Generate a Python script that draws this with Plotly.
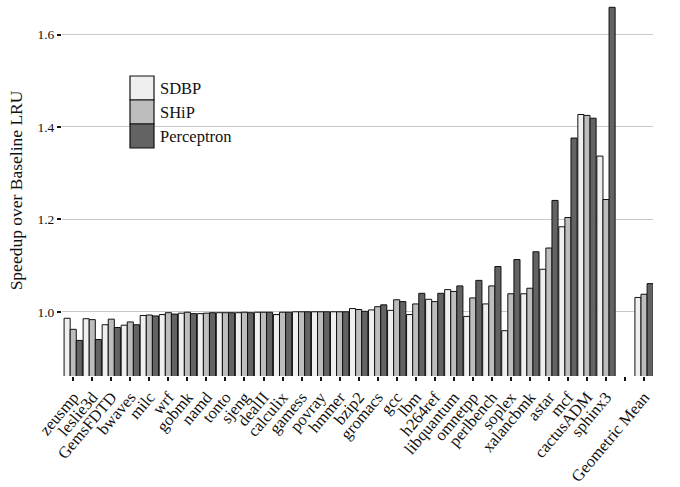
import plotly.graph_objects as go

# Benchmarks (blank slot separates the suite from the geometric mean)
benchmarks = [
    "zeusmp", "leslie3d", "GemsFDTD", "bwaves", "milc", "wrf", "gobmk", "namd",
    "tonto", "sjeng", "dealII", "calculix", "gamess", "povray", "hmmer", "bzip2",
    "gromacs", "gcc", "lbm", "h264ref", "libquantum", "omnetpp", "perlbench",
    "soplex", "xalancbmk", "astar", "mcf", "cactusADM", "sphinx3", " ",
    "Geometric Mean",
]

sdbp = [0.986, 0.985, 0.972, 0.971, 0.992, 0.994, 0.997, 0.996, 0.998, 0.998,
        0.999, 0.994, 1.000, 1.000, 1.000, 1.007, 1.004, 1.003, 0.994, 1.027,
        1.048, 0.990, 1.017, 0.959, 1.039, 1.092, 1.184, 1.427, 1.337, None,
        1.031]
ship = [0.962, 0.983, 0.984, 0.978, 0.993, 0.998, 0.999, 0.997, 0.998, 0.999,
        0.999, 0.999, 1.000, 1.000, 1.000, 1.005, 1.011, 1.026, 1.017, 1.022,
        1.044, 1.030, 1.056, 1.039, 1.051, 1.138, 1.204, 1.425, 1.243, None,
        1.038]
perceptron = [0.938, 0.940, 0.966, 0.972, 0.991, 0.995, 0.996, 0.998, 0.998,
              0.998, 0.999, 0.999, 1.000, 1.000, 1.000, 1.001, 1.015, 1.022,
              1.040, 1.040, 1.056, 1.068, 1.098, 1.113, 1.130, 1.241, 1.376,
              1.419, 1.659, None, 1.061]

series_names = ["SDBP", "SHiP", "Perceptron"]
series_colors = ["#efefef", "#bdbdbd", "#636363"]
series_values = [sdbp, ship, perceptron]

y_ticks = [1.0, 1.2, 1.4, 1.6]
y_range = [0.861, 1.664]

SERIF = "Liberation Serif, Times New Roman, serif"
INK = "#111111"

fig = go.Figure()
for name, color, vals in zip(series_names, series_colors, series_values):
    fig.add_trace(go.Bar(
        x=benchmarks, y=vals, name=name,
        marker=dict(color=color, line=dict(color=INK, width=1)),
        showlegend=False,
    ))

# Square legend swatches stacked in the upper-left of the plot area
W, H = 680, 487
ML, MR, MT, MB = 62, 27, 5, 111
pw, ph = W - ML - MR, H - MT - MB


def px_to_paper(xp, yp):
    return (xp - ML) / pw, (H - MB - yp) / ph


box_x0, box_x1, box_top, box_h = 130, 154, 76, 24
for i, (name, color) in enumerate(zip(series_names, series_colors)):
    x0, y1 = px_to_paper(box_x0, box_top + i * box_h)
    x1, y0 = px_to_paper(box_x1, box_top + (i + 1) * box_h)
    fig.add_shape(type="rect", xref="paper", yref="paper",
                  x0=x0, x1=x1, y0=y0, y1=y1,
                  fillcolor=color, line=dict(color=INK, width=1.2))
    tx, ty = px_to_paper(box_x1 + 4, box_top + (i + 0.5) * box_h)
    fig.add_annotation(xref="paper", yref="paper", x=tx, y=ty, text=name,
                       showarrow=False, xanchor="left", yanchor="middle",
                       font=dict(family=SERIF, size=16.5, color=INK))

fig.update_layout(
    width=W, height=H,
    margin=dict(l=ML, r=MR, t=MT, b=MB),
    paper_bgcolor="white", plot_bgcolor="white",
    barmode="group", bargap=0.04, bargroupgap=0.0,
    font=dict(family=SERIF, size=16, color=INK),
    xaxis=dict(
        type="category", categoryorder="array", categoryarray=benchmarks,
        range=[-0.59, 30.47], automargin=False,
        tickmode="array", tickvals=benchmarks, ticktext=benchmarks,
        tickangle=-50, ticks="outside", ticklen=4, tickwidth=1.5,
        tickcolor=INK, showgrid=False, showline=False, zeroline=False,
        tickfont=dict(family=SERIF, size=16.5, color=INK),
    ),
    yaxis=dict(
        range=y_range, tickvals=y_ticks, tickformat=".1f", automargin=False,
        ticks="outside", ticklen=4, tickwidth=1.5, tickcolor=INK,
        showgrid=True, gridcolor="#c8c8c8", gridwidth=1,
        zeroline=False, showline=False,
        tickfont=dict(family=SERIF, size=13.5, color=INK),
        title=dict(text="Speedup over Baseline LRU", standoff=10,
                   font=dict(family=SERIF, size=17.5, color=INK)),
    ),
    yaxis2=dict(
        range=y_range, tickvals=y_ticks, tickformat=".1f", automargin=False,
        overlaying="y", side="right", matches="y",
        ticks="outside", ticklen=4, tickwidth=1.5, tickcolor=INK,
        showgrid=False, zeroline=False, showline=False,
        tickfont=dict(family=SERIF, size=13.5, color=INK),
    ),
)

fig.write_html("out.html")
